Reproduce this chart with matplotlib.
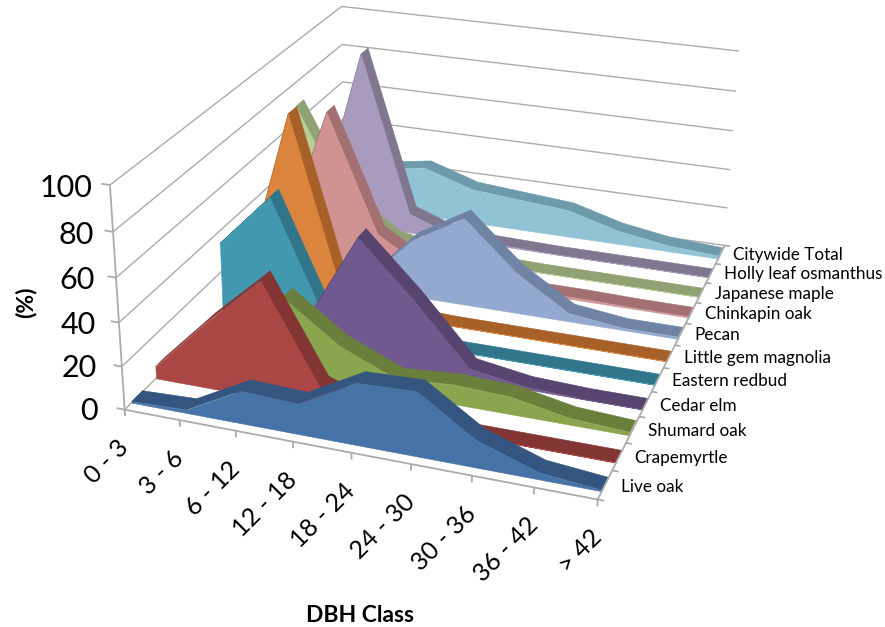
import numpy as np
import matplotlib
matplotlib.use('Agg')
import matplotlib.pyplot as plt
from mpl_toolkits.mplot3d.art3d import Poly3DCollection

plt.rcParams['font.family'] = ['Lato', 'DejaVu Sans']

# ---------- data ----------
dbh_classes = ['0 - 3', '3 - 6', '6 - 12', '12 - 18', '18 - 24', '24 - 30', '30 - 36', '36 - 42', '> 42']
species = ['Live oak', 'Crapemyrtle', 'Shumard oak', 'Cedar elm', 'Eastern redbud', 'Little gem magnolia',
           'Pecan', 'Chinkapin oak', 'Japanese maple', 'Holly leaf osmanthus', 'Citywide Total']
live_oak = [0.5, 1.5, 15, 14, 28, 29, 12, 3, 0.5]
crapemyrtle = [5.5, 31, 54, 10, 0.5, 0, 0, 0, 0]
shumard_oak = [1, 9, 36, 18, 7, 9, 8, 3, 1.5]
cedar_elm = [0, 2, 14, 58, 33, 5, 1, 0, 0]
eastern_redbud = [34, 60, 5, 1, 0, 0, 0, 0, 0]
little_gem = [3, 91, 5, 1, 0, 0, 0, 0, 0]
pecan = [0, 0, 2, 28, 43, 20, 4, 1, 1]
chinkapin = [4, 76, 18, 3, 1, 1, 1, 0.5, 0.5]
japanese_maple = [68, 22, 6, 1, 0.5, 0, 0, 0, 0]
holly_leaf = [0.5, 90, 10, 1, 0.5, 0, 0, 0, 0]
citywide = [1, 22, 26, 18, 16, 14, 7, 3, 1.5]
series_values = [live_oak, crapemyrtle, shumard_oak, cedar_elm, eastern_redbud, little_gem,
                 pecan, chinkapin, japanese_maple, holly_leaf, citywide]
z_ticks = [0, 20, 40, 60, 80, 100]

# ---------- style ----------
face_colors = ['#4572A7', '#AA4643', '#89A54E', '#71588F', '#4198AF', '#DB843D',
               '#93A9CF', '#D19392', '#B9CD96', '#A99BBD', '#91C3D5']
top_colors = ['#34557F', '#833534', '#6A7F3C', '#57446F', '#31758A', '#A66028',
              '#6F84A5', '#A27070', '#90A174', '#81768F', '#6E9BAB']
GRID = '#ABABAB'
W, H = 885, 627
FRONT, BACK = 0.28, 0.72

# ---------- camera: fitted to the chart box corners ----------
anchors = [
    ((0, 0, 100), (110, 186)), ((0, 0, 80), (113, 232)), ((0, 0, 60), (116, 278)),
    ((0, 0, 40), (119, 322)), ((0, 0, 20), (122, 366)), ((0, 0, 0), (125, 409)),
    ((0, 11, 100), (342, 6)), ((0, 11, 80), (342, 44)), ((0, 11, 60), (342.5, 82)),
    ((8, 11, 100), (739, 51)), ((8, 11, 80), (736, 91)), ((8, 11, 60), (733, 131)),
    ((8, 11, 40), (730, 170)), ((8, 11, 20), (727, 208)), ((8, 11, 0), (723, 246)),
    ((1, 0, 0), (180, 420)), ((2, 0, 0), (236, 431)), ((3, 0, 0), (292, 443)),
    ((4, 0, 0), (351, 453)), ((5, 0, 0), (410, 465)), ((8, 0, 0), (595, 497)),
    ((8, 5, 0), (670, 368)),
]
rows = []
for (x, y, z), (u, v) in anchors:
    z = z / 100.0
    rows.append([x, y, z, 1, 0, 0, 0, 0, -u * x, -u * y, -u * z, -u])
    rows.append([0, 0, 0, 0, x, y, z, 1, -v * x, -v * y, -v * z, -v])
A = np.array(rows, float)
scale = np.sqrt((A ** 2).mean(axis=0))
_, _, vt = np.linalg.svd(A / scale)
P = (vt[-1] / scale).reshape(3, 4)
P = P @ np.diag([1, 1, 0.01, 1])
if P[2] @ np.array([4, 5, 50, 1]) < 0:
    P = -P
P = P / (P[2] @ np.array([4, 5, 50, 1]))

fig = plt.figure(figsize=(W / 100, H / 100), dpi=100, facecolor='white')
ax = fig.add_axes([0, 0, 1, 1], projection='3d', computed_zorder=False)
ax.set_axis_off()
ax.patch.set_alpha(0)
ax.apply_aspect = lambda position=None: None


def fitted_proj():
    x0, y0, dx, dy = ax.viewLim.bounds
    M = np.zeros((4, 4))
    M[0] = P[0] / W * dx + x0 * P[2]
    M[1] = (H * P[2] - P[1]) / H * dy + y0 * P[2]
    M[3] = P[2]
    M[2] = -0.5 * P[2] + np.array([0, 1e-3, 0, 0])
    return M


ax.get_proj = fitted_proj
n_x, n_y = len(dbh_classes) - 1, len(species)


def to_pixel(x, y, z):
    u, v, w = P @ np.array([x, y, z, 1.0])
    return u / w, v / w


def label(x, y, z, text, off=(0, 0), **kw):
    u, v = to_pixel(x, y, z)
    fig.text((u + off[0]) / W, 1 - (v + off[1]) / H, text, color='black', **kw)


def line(xs, ys, zs, lw=1.0, z=1):
    ax.plot(xs, ys, zs, color=GRID, lw=lw, zorder=z, solid_capstyle='butt')


# ---------- walls and axes ----------
for zt in z_ticks:
    line([0, 0, n_x], [0, n_y, n_y], [zt, zt, zt])
    line([0, -0.15], [0, 0], [zt, zt], lw=1.3, z=200)
    pad = 0.3 + 0.2 * (1 - zt / 100)
    label(-pad, 0, zt, str(zt), off=(0, 6), ha='right', va='center', fontsize=22)
line([0, 0], [0, 0], [0, 100], lw=1.3, z=200)
line([0, n_x, n_x], [0, 0, n_y], [0, 0, 0], lw=1.3, z=200)
for i, lab in enumerate(dbh_classes):
    line([i, i], [0, 0], [0, -3], lw=1.3, z=200)
    label(i, 0, 0, lab, off=(-8, 26), rotation=45, rotation_mode='anchor', ha='right', va='top', fontsize=18)
for s in range(n_y + 1):
    line([n_x, n_x + 0.1], [s, s], [0, 0], lw=1.3, z=200)
for s, lab in enumerate(species):
    label(n_x + 0.25, s + 0.5, 0, lab, off=(0, -1), ha='left', va='center', fontsize=12.3)

# ---------- series, back to front ----------
xs = np.arange(len(dbh_classes))
for s in range(n_y - 1, -1, -1):
    v = series_values[s]
    base = 10 + 4 * (n_y - s)
    ribbons = []
    for i in range(n_x):
        ribbons.append([(xs[i], s + FRONT, v[i]), (xs[i + 1], s + FRONT, v[i + 1]),
                        (xs[i + 1], s + BACK, v[i + 1]), (xs[i], s + BACK, v[i])])
    ax.add_collection3d(Poly3DCollection(ribbons, facecolors=top_colors[s], edgecolors=top_colors[s],
                                         linewidths=0.4, zorder=base), autolim=False)
    face = [(xs[i], s + FRONT, v[i]) for i in range(n_x + 1)] + [(n_x, s + FRONT, 0), (0, s + FRONT, 0)]
    ax.add_collection3d(Poly3DCollection([face], facecolors=face_colors[s], edgecolors=face_colors[s],
                                         linewidths=0.4, zorder=base + 1), autolim=False)

fig.text(360 / W, 1 - 616 / H, 'DBH Class', fontsize=16.5, fontweight='bold', ha='center', va='center')
fig.text(26 / W, 1 - 302 / H, '(%)', fontsize=16.5, fontweight='bold', rotation=90, ha='center', va='center')

fig.savefig('out.png', dpi=100)
